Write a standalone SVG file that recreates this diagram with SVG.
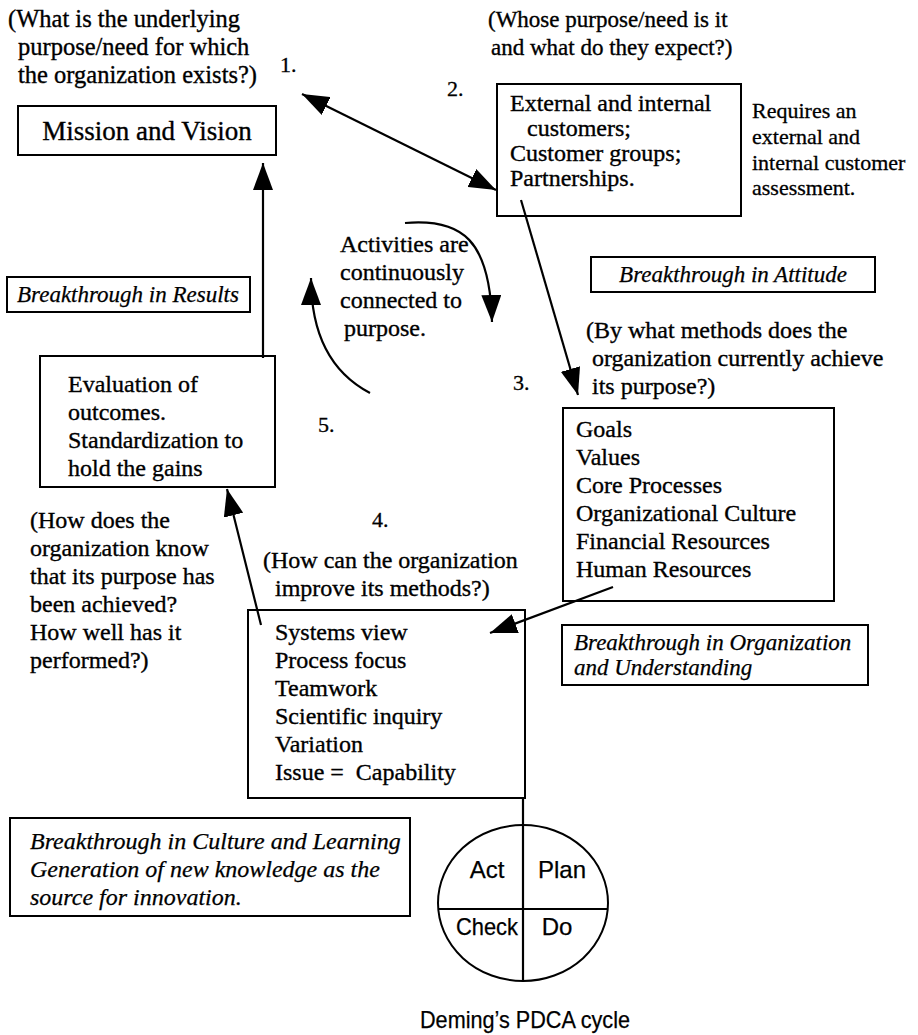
<svg xmlns="http://www.w3.org/2000/svg" width="918" height="1035" viewBox="0 0 918 1035">
<defs>
<style>
.t{font-family:"Liberation Serif","Times New Roman",serif;font-size:24px;fill:#000;stroke:#000;stroke-width:0.35}
.s{font-family:"Liberation Serif","Times New Roman",serif;font-size:22px;fill:#000;stroke:#000;stroke-width:0.3}
.i{font-family:"Liberation Serif","Times New Roman",serif;font-size:23px;font-style:italic;fill:#000;stroke:#000;stroke-width:0.25}
.n{font-family:"Liberation Sans Narrow","Liberation Sans",sans-serif;font-size:24px;fill:#000;stroke:#000;stroke-width:0.25}
.box{fill:#fff;stroke:#000;stroke-width:2}
.ln{fill:none;stroke:#000;stroke-width:2.2}
</style>
<marker id="ah" viewBox="0 0 27 20" refX="27" refY="10" markerWidth="27" markerHeight="20" orient="auto-start-reverse" markerUnits="userSpaceOnUse">
<path d="M0,0 L27,10 L0,20 z" fill="#000"/>
</marker>
</defs>
<rect width="918" height="1035" fill="#fff"/>

<g id="q1">
<text class="t" x="8" y="27" style="font-size:24.5px">(What is the underlying</text>
<text class="t" x="18" y="55" style="font-size:24.5px">purpose/need for which</text>
<text class="t" x="18" y="83" style="font-size:24.5px">the organization exists?)</text>
<text class="s" x="280" y="72">1.</text>
</g>

<g id="mission">
<rect class="box" x="18" y="106" width="258" height="49"/>
<text class="t" x="147" y="140" text-anchor="middle" style="font-size:27px">Mission and Vision</text>
</g>

<g id="q2">
<text class="t" x="488" y="27" style="font-size:23px">(Whose purpose/need is it</text>
<text class="t" x="491" y="55" style="font-size:23px">and what do they expect?)</text>
<text class="s" x="447" y="96">2.</text>
</g>

<g id="customers">
<rect class="box" x="497" y="84" width="244" height="132"/>
<text class="t" x="510" y="111">External and internal</text>
<text class="t" x="527" y="136">customers;</text>
<text class="t" x="510" y="161">Customer groups;</text>
<text class="t" x="510" y="186">Partnerships.</text>
</g>

<g id="requires">
<text class="s" x="752" y="118">Requires an</text>
<text class="s" x="752" y="144">external and</text>
<text class="s" x="752" y="170">internal customer</text>
<text class="s" x="752" y="195">assessment.</text>
</g>

<g id="attitude">
<rect class="box" x="591" y="257" width="284" height="35"/>
<text class="i" x="733" y="282" text-anchor="middle">Breakthrough in Attitude</text>
</g>

<g id="activities">
<text class="t" x="340" y="252">Activities are</text>
<text class="t" x="340" y="280">continuously</text>
<text class="t" x="340" y="308">connected to</text>
<text class="t" x="344" y="336">purpose.</text>
</g>

<g id="results">
<rect class="box" x="7" y="277" width="243" height="35"/>
<text class="i" x="128" y="302" text-anchor="middle">Breakthrough in Results</text>
</g>

<g id="evaluation">
<rect class="box" x="40" y="356" width="235" height="131"/>
<text class="t" x="68" y="392">Evaluation of</text>
<text class="t" x="68" y="420">outcomes.</text>
<text class="t" x="68" y="448">Standardization to</text>
<text class="t" x="68" y="476">hold the gains</text>
</g>

<text class="s" x="318" y="432">5.</text>

<g id="q3">
<text class="t" x="586" y="338">(By what methods does the</text>
<text class="t" x="592" y="366">organization currently achieve</text>
<text class="t" x="592" y="394">its purpose?)</text>
<text class="s" x="513" y="390">3.</text>
</g>

<g id="methods">
<rect class="box" x="563" y="408" width="271" height="193"/>
<text class="t" x="576" y="437">Goals</text>
<text class="t" x="576" y="465">Values</text>
<text class="t" x="576" y="493">Core Processes</text>
<text class="t" x="576" y="521">Organizational Culture</text>
<text class="t" x="576" y="549">Financial Resources</text>
<text class="t" x="576" y="577">Human Resources</text>
</g>

<g id="q5">
<text class="t" x="30" y="528">(How does the</text>
<text class="t" x="30" y="556">organization know</text>
<text class="t" x="30" y="584">that its purpose has</text>
<text class="t" x="30" y="612">been achieved?</text>
<text class="t" x="30" y="640">How well has it</text>
<text class="t" x="30" y="668">performed?)</text>
</g>

<g id="q4">
<text class="s" x="372" y="527">4.</text>
<text class="t" x="263" y="568">(How can the organization</text>
<text class="t" x="275" y="596">improve its methods?)</text>
</g>

<g id="improve">
<rect class="box" x="248" y="610" width="277" height="188"/>
<text class="t" x="275" y="640">Systems view</text>
<text class="t" x="275" y="668">Process focus</text>
<text class="t" x="275" y="696">Teamwork</text>
<text class="t" x="275" y="724">Scientific inquiry</text>
<text class="t" x="275" y="752">Variation</text>
<text class="t" x="275" y="780" xml:space="preserve">Issue =  Capability</text>
</g>

<g id="organization">
<rect class="box" x="562" y="625" width="306" height="60"/>
<text class="i" x="574" y="650">Breakthrough in Organization</text>
<text class="i" x="574" y="675">and Understanding</text>
</g>

<g id="culture">
<rect class="box" x="10" y="818" width="400" height="98"/>
<text class="i" x="30" y="849" style="font-size:24px">Breakthrough in Culture and Learning</text>
<text class="i" x="30" y="877" style="font-size:24px">Generation of new knowledge as the</text>
<text class="i" x="30" y="905" style="font-size:24px">source for innovation.</text>
</g>

<g id="pdca">
<ellipse cx="523" cy="903" rx="85" ry="78" fill="#fff" stroke="#000" stroke-width="2"/>
<line class="ln" x1="438" y1="909" x2="608" y2="909"/>
<text class="n" x="487" y="878" text-anchor="middle">Act</text>
<text class="n" x="562" y="878" text-anchor="middle">Plan</text>
<text class="n" x="487" y="935" text-anchor="middle" textLength="62" lengthAdjust="spacingAndGlyphs">Check</text>
<text class="n" x="557" y="935" text-anchor="middle">Do</text>
<text class="n" x="525" y="1028" text-anchor="middle" textLength="210" lengthAdjust="spacingAndGlyphs">Deming’s PDCA cycle</text>
</g>

<g id="connectors">
<line class="ln" x1="302" y1="94" x2="496" y2="190" marker-start="url(#ah)" marker-end="url(#ah)"/>
<line class="ln" x1="521" y1="200" x2="578" y2="395" marker-end="url(#ah)"/>
<line class="ln" x1="263" y1="358" x2="263" y2="163" marker-end="url(#ah)"/>
<line class="ln" x1="613" y1="587" x2="490" y2="633" marker-end="url(#ah)"/>
<line class="ln" x1="261" y1="625" x2="227" y2="489" marker-end="url(#ah)"/>
<path class="ln" d="M405,223 C462,218 490,240 492,322" marker-end="url(#ah)"/>
<path class="ln" d="M370,393 Q311,362 311,278" marker-end="url(#ah)"/>
<line class="ln" x1="523" y1="798" x2="523" y2="982"/>
</g>
</svg>
